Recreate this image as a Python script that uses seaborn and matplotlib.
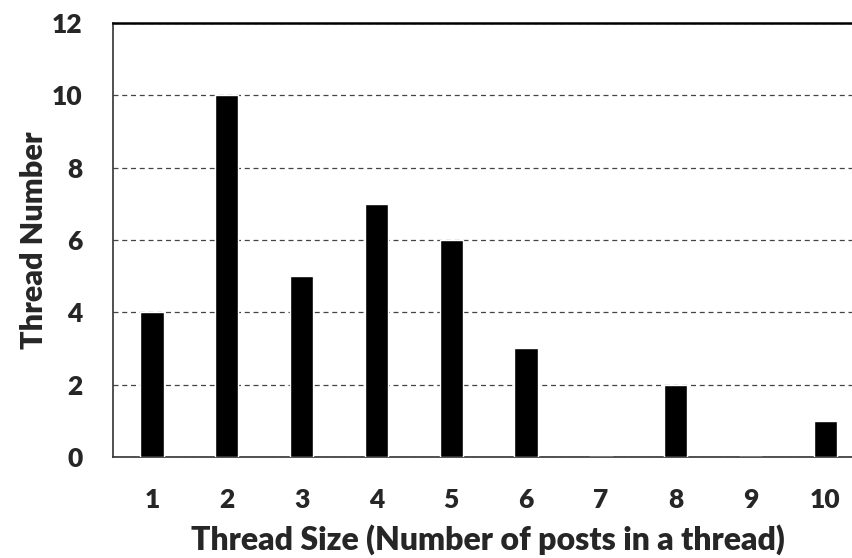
import pandas as pd
import seaborn as sns
import matplotlib.pyplot as plt

# thread sizes and how many threads have that size
sizes = ['1', '2', '3', '4', '5', '6', '7', '8', '9', '10']
counts = [4, 10, 5, 7, 6, 3, 0, 2, 0, 1]

df = pd.DataFrame({'size': sizes, 'count': counts})

sns.set_style('white')
plt.rcParams['font.family'] = ['Lato', 'DejaVu Sans']
plt.rcParams['font.weight'] = 'bold'

fig = plt.figure(figsize=(8.53, 5.58), dpi=100)
# axes runs past the right edge, like the cropped original
ax = fig.add_axes([0.1325, 0.181, 0.879, 0.778])

sns.barplot(data=df, x='size', y='count', color='black', width=0.31,
            saturation=1, ax=ax, zorder=3)

ax.set_ylim(0, 12)
ax.set_xlim(-0.52, 9.5)
ax.set_yticks(range(0, 13, 2))
ax.yaxis.grid(True, linestyle=(0, (4, 3)), color='#444444', linewidth=0.9)
ax.xaxis.grid(False)

ax.tick_params(axis='both', length=0, labelsize=19)
ax.tick_params(axis='x', pad=22)
ax.tick_params(axis='y', pad=22)
for lab in ax.get_xticklabels() + ax.get_yticklabels():
    lab.set_fontweight('heavy')

ax.set_xlabel('Thread Size (Number of posts in a thread)', fontsize=23,
              fontweight='heavy', labelpad=9)
ax.set_ylabel('Thread Number', fontsize=22, fontweight='heavy', labelpad=3)

for side in ['left', 'bottom']:
    ax.spines[side].set_color('#333333')
    ax.spines[side].set_linewidth(1.2)
ax.spines['top'].set_color('black')
ax.spines['top'].set_linewidth(1.8)
ax.spines['right'].set_visible(False)

plt.savefig('out.png', dpi=100)
